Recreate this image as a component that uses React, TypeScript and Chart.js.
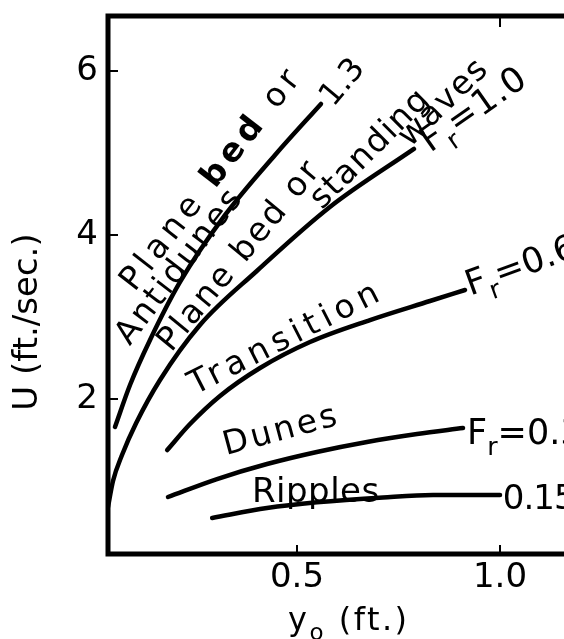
import React, { useEffect, useRef } from 'react';
import { Chart, registerables } from 'chart.js';

Chart.register(...registerables);

// ---- Axis ticks ----
const xTickValues = [0.5, 1.0];
const xTickLabels = ['0.5', '1.0'];
const yTickValues = [2, 4, 6];
const yTickLabels = ['2', '4', '6'];
const topTickValues = [1.0];

// ---- Curves: depth y0 (ft) vs velocity U (ft/sec) ----
const fr13Depth = [0.0517, 0.0887, 0.138, 0.212, 0.323, 0.446, 0.559];
const fr13Velocity = [1.659, 2.171, 2.72, 3.427, 4.244, 4.976, 5.598];

const fr10Depth = [0.0345, 0.0468, 0.069, 0.1039, 0.1626, 0.261, 0.401, 0.581, 0.788];
const fr10Velocity = [0.683, 1.0, 1.317, 1.707, 2.232, 2.902, 3.561, 4.341, 5.049];

const fr06Depth = [0.1803, 0.2365, 0.3103, 0.4089, 0.532, 0.6798, 0.8276, 0.9138];
const fr06Velocity = [1.378, 1.695, 2.037, 2.378, 2.695, 2.963, 3.195, 3.329];

const fr03Depth = [0.1823, 0.303, 0.4261, 0.5488, 0.6724, 0.7956, 0.9089];
const fr03Velocity = [0.805, 1.024, 1.207, 1.354, 1.476, 1.573, 1.646];

const fr015Depth = [0.291, 0.426, 0.549, 0.712, 0.835, 1.0];
const fr015Velocity = [0.55, 0.67, 0.74, 0.8, 0.83, 0.83];

const curves = [
  { x: fr13Depth, y: fr13Velocity },
  { x: fr10Depth, y: fr10Velocity },
  { x: fr06Depth, y: fr06Velocity },
  { x: fr03Depth, y: fr03Velocity },
  { x: fr015Depth, y: fr015Velocity },
];

// ---- Text ----
const yTitle = 'U (ft./sec.)';
const xTitleMain = 'y';
const xTitleSub = 'o';
const xTitleRest = ' (ft.)';

type Seg = { t: string; sub?: boolean; bold?: boolean };
type Note = { segs: Seg[]; x: number; y: number; angle: number; size: number; spacing: number };

const FONT = '"DejaVu Sans", "Liberation Sans", sans-serif';

const notes: Note[] = [
  { segs: [{ t: 'Plane ' }, { t: 'bed', bold: true }, { t: ' or' }], x: 0.1, y: 3.3, angle: -52, size: 33, spacing: 5 },
  { segs: [{ t: 'Antidunes' }], x: 0.088, y: 2.64, angle: -52.5, size: 33, spacing: 2.5 },
  { segs: [{ t: 'Plane bed or' }], x: 0.19, y: 2.56, angle: -50.5, size: 33, spacing: 2.5 },
  { segs: [{ t: 'standing' }], x: 0.5616, y: 4.3, angle: -45, size: 33, spacing: 1.5 },
  { segs: [{ t: 'waves' }], x: 0.778, y: 5.06, angle: -44, size: 33, spacing: 1.5 },
  { segs: [{ t: '1.3' }], x: 0.589, y: 5.55, angle: -50, size: 32, spacing: 0 },
  { segs: [{ t: 'F' }, { t: 'r', sub: true }, { t: '=1.0' }], x: 0.828, y: 5.0, angle: -35, size: 35, spacing: 1 },
  { segs: [{ t: 'Transition' }], x: 0.249, y: 2.049, angle: -27, size: 33, spacing: 5.5 },
  { segs: [{ t: 'F' }, { t: 'r', sub: true }, { t: '=0.6' }], x: 0.927, y: 3.26, angle: -20, size: 35, spacing: 0 },
  { segs: [{ t: 'Dunes' }], x: 0.325, y: 1.317, angle: -15, size: 33, spacing: 3 },
  { segs: [{ t: 'F' }, { t: 'r', sub: true }, { t: '=0.3' }], x: 0.919, y: 1.45, angle: 0, size: 35, spacing: 0 },
  { segs: [{ t: 'Ripples' }], x: 0.389, y: 0.744, angle: 0, size: 34, spacing: 0.5 },
  { segs: [{ t: '0.15' }], x: 1.007, y: 0.659, angle: 0, size: 34, spacing: -1 },
];

function drawRich(ctx: CanvasRenderingContext2D, segs: Seg[], x: number, y: number, angleDeg: number, size: number, spacing: number) {
  ctx.save();
  ctx.translate(x, y);
  ctx.rotate((angleDeg * Math.PI) / 180);
  ctx.textAlign = 'left';
  ctx.textBaseline = 'alphabetic';
  ctx.fillStyle = '#000';
  (ctx as any).letterSpacing = spacing + 'px';
  let cx = 0;
  for (const s of segs) {
    const fs = s.sub ? size * 0.72 : size;
    ctx.font = `${s.bold ? 'bold ' : ''}${fs}px ${FONT}`;
    const dy = s.sub ? size * 0.32 : 0;
    ctx.fillText(s.t, cx, dy);
    cx += ctx.measureText(s.t).width;
  }
  ctx.restore();
}

const decorPlugin = {
  id: 'decor',
  afterDraw(chart: any) {
    const ctx: CanvasRenderingContext2D = chart.ctx;
    const { left, right, top, bottom } = chart.chartArea;
    const xs = chart.scales.x;
    const ys = chart.scales.y;
    ctx.save();
    // frame
    ctx.strokeStyle = '#000';
    ctx.lineWidth = 5;
    ctx.lineCap = 'square';
    ctx.beginPath();
    ctx.moveTo(right + 5, top);
    ctx.lineTo(left, top);
    ctx.lineTo(left, bottom);
    ctx.lineTo(right + 5, bottom);
    ctx.stroke();
    // inward ticks
    ctx.lineWidth = 2;
    ctx.lineCap = 'butt';
    ctx.beginPath();
    for (const v of yTickValues) {
      const p = ys.getPixelForValue(v);
      ctx.moveTo(left, p);
      ctx.lineTo(left + 10, p);
    }
    for (const v of xTickValues) {
      const p = xs.getPixelForValue(v);
      ctx.moveTo(p, bottom);
      ctx.lineTo(p, bottom - 9);
    }
    for (const v of topTickValues) {
      const p = xs.getPixelForValue(v);
      ctx.moveTo(p, top);
      ctx.lineTo(p, top + 11);
    }
    ctx.stroke();

    // annotations
    for (const n of notes) {
      drawRich(ctx, n.segs, xs.getPixelForValue(n.x), ys.getPixelForValue(n.y), n.angle, n.size, n.spacing);
    }

    // y title
    ctx.save();
    ctx.translate(28, 322);
    ctx.rotate(-Math.PI / 2);
    ctx.font = `34px ${FONT}`;
    ctx.textAlign = 'center';
    ctx.textBaseline = 'middle';
    ctx.fillStyle = '#000';
    ctx.fillText(yTitle, 0, 0);
    ctx.restore();

    // x title
    drawRich(ctx, [{ t: xTitleMain }, { t: xTitleSub, sub: true }, { t: xTitleRest }], 288, 630, 0, 32, 2.5);
    ctx.restore();
  },
};

export default function App() {
  const ref = useRef<HTMLCanvasElement | null>(null);
  useEffect(() => {
    if (!ref.current) return;
    Chart.defaults.font.family = FONT;
    const chart = new Chart(ref.current, {
      type: 'scatter',
      data: {
        datasets: curves.map((c) => ({
          data: c.x.map((x, i) => ({ x, y: c.y[i] })),
          showLine: true,
          borderColor: '#000',
          backgroundColor: '#000',
          borderWidth: 4.5,
          pointRadius: 0,
          cubicInterpolationMode: 'monotone' as const,
          borderCapStyle: 'round' as const,
          fill: false,
        })),
      },
      options: {
        animation: false,
        responsive: false,
        devicePixelRatio: 1,
        layout: { padding: { top: 16, right: 0, left: 0, bottom: 0 } },
        plugins: { legend: { display: false }, tooltip: { enabled: false } },
        scales: {
          x: {
            type: 'linear',
            min: 0.0345,
            max: 1.1576,
            afterBuildTicks: (s: any) => {
              s.ticks = xTickValues.map((v) => ({ value: v }));
            },
            afterFit: (s: any) => {
              s.height = 85;
              s.paddingLeft = 0;
              s.paddingRight = 0;
            },
            ticks: {
              callback: (v: any) => {
                const i = xTickValues.indexOf(Number(v));
                return i >= 0 ? xTickLabels[i] : '';
              },
              font: { size: 34 },
              color: '#000',
              padding: 4,
              autoSkip: false,
              maxRotation: 0,
            },
            grid: { display: false, drawTicks: false },
            border: { display: false },
          },
          y: {
            type: 'linear',
            min: 0.11,
            max: 6.67,
            afterBuildTicks: (s: any) => {
              s.ticks = yTickValues.map((v) => ({ value: v }));
            },
            afterFit: (s: any) => {
              s.width = 108;
              s.paddingTop = 0;
              s.paddingBottom = 0;
            },
            ticks: {
              callback: (v: any) => {
                const i = yTickValues.indexOf(Number(v));
                return i >= 0 ? yTickLabels[i] : '';
              },
              font: { size: 34 },
              color: '#000',
              padding: 10,
              autoSkip: false,
            },
            grid: { display: false, drawTicks: false },
            border: { display: false },
          },
        },
      },
      plugins: [decorPlugin],
    } as any);
    return () => chart.destroy();
  }, []);
  return (
    <div style={{ position: 'absolute', left: 0, top: 0, width: 564, height: 639, background: '#fff', overflow: 'hidden' }}>
      <canvas ref={ref} width={564} height={639} style={{ display: 'block' }} />
    </div>
  );
}
